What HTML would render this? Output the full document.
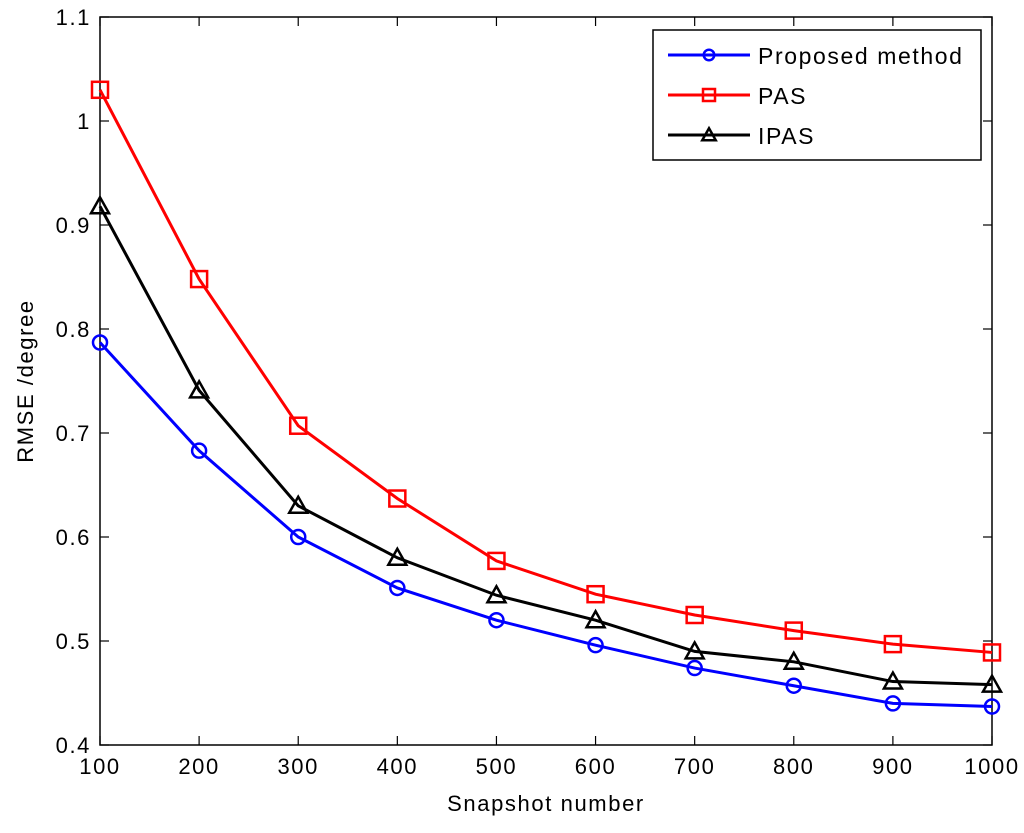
<!DOCTYPE html>
<html><head><meta charset="utf-8"><style>
body{margin:0;background:#fff}
svg text{font-family:"Liberation Sans",sans-serif;fill:#000;letter-spacing:1.6px}
</style></head><body>
<svg id="chart" width="1024" height="828" xmlns="http://www.w3.org/2000/svg">
<rect width="1024" height="828" fill="#fff"/>
<g id="axes"></g>
<g id="series"></g>
<g id="legend"></g>
</svg>
<script>
const xValues=[100,200,300,400,500,600,700,800,900,1000];
const proposed=[0.787,0.683,0.600,0.551,0.520,0.496,0.474,0.457,0.440,0.437];
const pas=[1.03,0.848,0.707,0.637,0.577,0.545,0.525,0.510,0.497,0.489];
const ipas=[0.918,0.741,0.630,0.580,0.544,0.520,0.490,0.480,0.461,0.458];
const xTicks=[100,200,300,400,500,600,700,800,900,1000];
const yTicks=[0.4,0.5,0.6,0.7,0.8,0.9,1,1.1];
const L=100,R=992,T=17,B=745;
const sx=v=>L+(v-100)/900*(R-L);
const sy=v=>B-(v-0.4)/0.7*(B-T);
const NS="http://www.w3.org/2000/svg";
function mk(tag,attrs,parent){const e=document.createElementNS(NS,tag);for(const k in attrs)e.setAttribute(k,attrs[k]);parent.appendChild(e);return e;}
const axes=document.getElementById('axes');
const box=mk('rect',{x:L,y:T,width:R-L,height:B-T,fill:'none',stroke:'#000','stroke-width':1.5},axes);


xTicks.forEach(v=>{
 const x=sx(v);
 mk('line',{x1:x,y1:B,x2:x,y2:B-9,stroke:'#000','stroke-width':1.2},axes);
 mk('line',{x1:x,y1:T,x2:x,y2:T+9,stroke:'#000','stroke-width':1.2},axes);
 const t=mk('text',{x:x,y:B+29,'text-anchor':'middle','font-size':22},axes);t.textContent=v;
 
 
});
yTicks.forEach(v=>{
 const y=sy(v);
 mk('line',{x1:L,y1:y,x2:L+9,y2:y,stroke:'#000','stroke-width':1.2},axes);
 mk('line',{x1:R,y1:y,x2:R-9,y2:y,stroke:'#000','stroke-width':1.2},axes);
 const t=mk('text',{x:L-9,y:y+8,'text-anchor':'end','font-size':22},axes);t.textContent=String(v);
 
 
});
const xt=mk('text',{x:(L+R)/2,y:811,'text-anchor':'middle','font-size':22},axes);xt.textContent='Snapshot number';


const yt=mk('text',{x:0,y:0,'text-anchor':'middle','font-size':22,transform:`translate(33,${(T+B)/2}) rotate(-90)`},axes);yt.textContent='RMSE /degree';


function marker(type,x,y,color,g,s){
 if(type==='o')return mk('circle',{cx:x,cy:y,r:7*s,fill:'none',stroke:color,'stroke-width':2.5},g);
 if(type==='s')return mk('rect',{x:x-8*s,y:y-8*s,width:16*s,height:16*s,fill:'none',stroke:color,'stroke-width':2.5},g);
 return mk('polygon',{points:`${x},${y-9*s} ${x-9*s},${y+7*s} ${x+9*s},${y+7*s}`,fill:'none',stroke:color,'stroke-width':2.5},g);
}
const ser=[['proposed',proposed,'#0000ff','o','Proposed method'],['pas',pas,'#ff0000','s','PAS'],['ipas',ipas,'#000000','t','IPAS']];
const sg=document.getElementById('series');
ser.forEach(([n,vals,c,m])=>{
 const g=mk('g',{},sg);
 
 
 const pl=mk('polyline',{points:vals.map((v,i)=>sx(xValues[i])+','+sy(v)).join(' '),fill:'none',stroke:c,'stroke-width':3},g);
 
 
 vals.forEach((v,i)=>{const mm=marker(m,sx(xValues[i]),sy(v),c,g,1);
  
  });
});
const lg=document.getElementById('legend');


mk('rect',{x:653,y:30,width:328,height:130,fill:'#fff',stroke:'#000','stroke-width':1.5},lg);
ser.forEach(([n,vals,c,m,label],i)=>{
 const y=55+i*40;
 const e=mk('g',{},lg);
 
 
 mk('line',{x1:668,y1:y,x2:750,y2:y,stroke:c,'stroke-width':3},e);
 marker(m,709,y,c,e,0.75);
 const t=mk('text',{x:758,y:y+9,'font-size':23},e);t.textContent=label;
});
</script>
</body></html>
